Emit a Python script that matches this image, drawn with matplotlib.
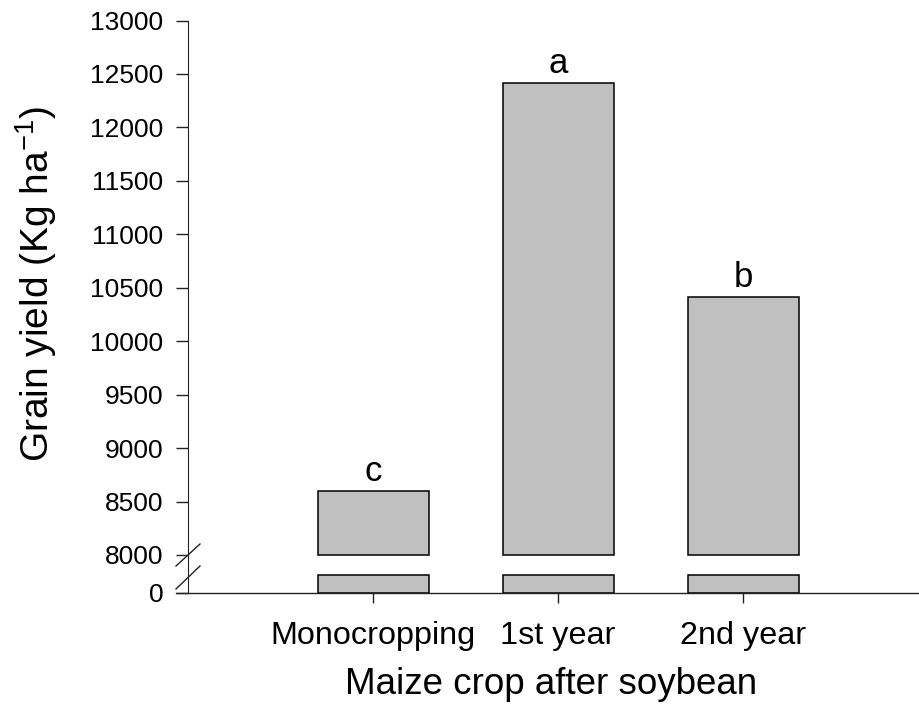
# Grain yield of maize after soybean, bar chart with a broken y axis
import numpy as np
import matplotlib
matplotlib.use('Agg')
import matplotlib.pyplot as plt
from matplotlib.lines import Line2D

plt.rcParams['font.family'] = ['Liberation Sans', 'DejaVu Sans']
plt.rcParams['mathtext.fontset'] = 'custom'
plt.rcParams['mathtext.rm'] = 'Liberation Sans'
plt.rcParams['mathtext.it'] = 'Liberation Sans:italic'

# data
treatments = ['Monocropping', '1st year', '2nd year']
grain_yield = [8600, 12415, 10415]
letters = ['c', 'a', 'b']
upper_ticks = [8000, 8500, 9000, 9500, 10000, 10500, 11000, 11500, 12000, 12500, 13000]

barFill = '#c0c0c0'
kLine = '#222222'

W, H = 919, 708
fig = plt.figure(figsize=(W / 100, H / 100), dpi=100)

def fx(px):
    return px / W

def fy(py):
    return 1 - py / H

x = np.arange(1, len(treatments) + 1)
bar_w = 0.6
x_right = 3.95

# upper part of the axis: 8000 - 13000
axU = fig.add_axes([fx(188), fy(555), fx(919) - fx(188), fy(20.5) - fy(555)])
axU.bar(x, np.array(grain_yield) - 8000, bottom=8000, width=bar_w, color=barFill,
        edgecolor='black', linewidth=1.1, clip_on=False)
axU.set_ylim(8000, 13000)
axU.set_xlim(0, x_right)
axU.set_yticks(upper_ticks)
axU.set_xticks([])
for s in ['top', 'right', 'bottom']:
    axU.spines[s].set_visible(False)
axU.spines['left'].set_color(kLine)
axU.tick_params(axis='y', direction='out', length=8.6, width=1, color=kLine,
                labelsize=19, pad=9)
axU.patch.set_visible(False)

# letters above the bars
for xi, v, l in zip(x, grain_yield, letters):
    axU.annotate(l, (xi, v), xytext=(0, 7), textcoords='offset points',
                 ha='center', va='baseline', fontsize=25)

# lower part of the axis: only 0
lower_top = 400
lower_cap = 190
axL = fig.add_axes([fx(188), fy(593), fx(919) - fx(188), fy(555) - fy(593)])
axL.bar(x, np.minimum(grain_yield, lower_cap), width=bar_w, color=barFill,
        edgecolor='black', linewidth=1.1)
axL.set_ylim(0, lower_top)
axL.set_xlim(0, x_right)
axL.set_yticks([0])
axL.set_xticks(x)
axL.set_xticklabels(treatments)
for s in ['top', 'right', 'bottom']:
    axL.spines[s].set_visible(False)
axL.spines['left'].set_color(kLine)
axL.tick_params(axis='y', direction='out', length=8.6, width=1, color=kLine,
                labelsize=19, pad=9)
axL.tick_params(axis='x', direction='out', length=7.2, width=1, color=kLine,
                labelsize=23.3, pad=13)
axL.patch.set_visible(False)

# x axis line runs out past the y axis
fig.add_artist(Line2D([fx(176), fx(919)], [fy(593), fy(593)], color=kLine, lw=1))

# break marks on the y axis
fig.add_artist(Line2D([fx(176), fx(200)], [fy(566), fy(544)], color=kLine, lw=1))
fig.add_artist(Line2D([fx(176), fx(200)], [fy(589), fy(566)], color=kLine, lw=1))

# axis titles
fig.text(fx(36), fy(284), r'Grain yield (Kg ha$^{\mathrm{-1}}$)', rotation=90,
         ha='center', va='center', fontsize=28)
fig.text(fx(551), fy(685), 'Maize crop after soybean', ha='center', va='center',
         fontsize=26.5)

fig.savefig('out.png', dpi=100)
